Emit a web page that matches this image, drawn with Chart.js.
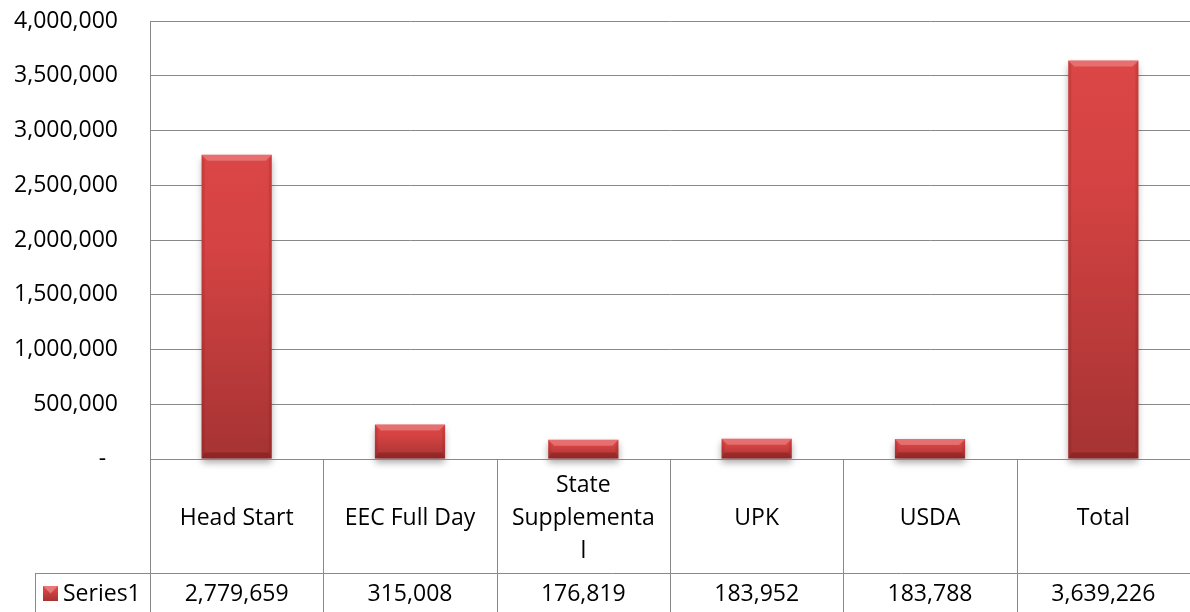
<!DOCTYPE html>
<html>
<head>
<meta charset="utf-8">
<script src="https://cdn.jsdelivr.net/npm/chart.js@4/dist/chart.umd.min.js"></script>
<style>
  body { margin: 0; background: #fff; }
  #wrap { width: 1190px; height: 612px; }
</style>
</head>
<body>
<div id="wrap"><canvas id="chart" width="1190" height="612"></canvas></div>
<script>
// data
const categories = ['Head Start', 'EEC Full Day', ['State', 'Supplementa', 'l'], 'UPK', 'USDA', 'Total'];
const seriesName = 'Series1';
const series1 = [2779659, 315008, 176819, 183952, 183788, 3639226];
const yMax = 4000000;
const yStep = 500000;

const fontFamily = '"Open Sans", sans-serif';
const fontSize = 23;
const lineColor = '#898989';

function fmt(v) {
  return v.toLocaleString('en-US');
}

function barGradient(ctx, top, base) {
  const g = ctx.createLinearGradient(0, top, 0, base);
  g.addColorStop(0, '#db4646');
  g.addColorStop(0.3, '#d54343');
  g.addColorStop(1, '#a63333');
  return g;
}

// bevel + shadow look of the excel bars
const bevel = {
  id: 'bevel',
  beforeDatasetsDraw(chart) {
    const ctx = chart.ctx;
    ctx.save();
    ctx.shadowColor = 'rgba(0,0,0,0.35)';
    ctx.shadowBlur = 7;
    ctx.shadowOffsetX = 0;
    ctx.shadowOffsetY = 4;
  },
  afterDatasetsDraw(chart) {
    const ctx = chart.ctx;
    ctx.restore();
    chart.getDatasetMeta(0).data.forEach(bar => {
      const l = bar.x - bar.width / 2, r = bar.x + bar.width / 2;
      const t = bar.y, b = bar.base;
      const e = Math.min(6, (b - t) / 3);
      ctx.save();
      ctx.fillStyle = 'rgba(255,190,190,0.35)';
      ctx.beginPath();
      ctx.moveTo(l, t); ctx.lineTo(r, t); ctx.lineTo(r - e, t + e); ctx.lineTo(l + e, t + e);
      ctx.closePath(); ctx.fill();
      ctx.fillStyle = 'rgba(90,0,0,0.12)';
      const s = Math.min(3, e);
      ctx.beginPath();
      ctx.moveTo(l, t); ctx.lineTo(l + s, t + e); ctx.lineTo(l + s, b - e); ctx.lineTo(l, b);
      ctx.closePath(); ctx.fill();
      ctx.beginPath();
      ctx.moveTo(r, t); ctx.lineTo(r - s, t + e); ctx.lineTo(r - s, b - e); ctx.lineTo(r, b);
      ctx.closePath(); ctx.fill();
      ctx.fillStyle = 'rgba(70,0,0,0.25)';
      ctx.beginPath();
      ctx.moveTo(l, b); ctx.lineTo(l + s, b - e); ctx.lineTo(r - s, b - e); ctx.lineTo(r, b);
      ctx.closePath(); ctx.fill();
      ctx.restore();
    });
  }
};

// data table under the plot
const dataTable = {
  id: 'dataTable',
  afterDraw(chart) {
    const ctx = chart.ctx;
    const a = chart.chartArea;
    const x = chart.scales.x;
    const n = categories.length;
    const colW = (a.right - a.left) / n;
    const rowSplit = a.bottom + 114;
    const bottom = chart.height;
    const keyLeft = 35;

    ctx.save();
    ctx.strokeStyle = lineColor;
    ctx.lineWidth = 1;
    ctx.beginPath();
    for (let i = 0; i <= n; i++) {
      const xx = Math.round(a.left + i * colW) + 0.5;
      ctx.moveTo(xx, a.bottom);
      ctx.lineTo(xx, bottom);
    }
    ctx.moveTo(keyLeft + 0.5, rowSplit);
    ctx.lineTo(keyLeft + 0.5, bottom);
    ctx.moveTo(keyLeft, rowSplit + 0.5);
    ctx.lineTo(a.right, rowSplit + 0.5);
    // axis line over the bar shadows
    ctx.moveTo(a.left, a.bottom + 0.5);
    ctx.lineTo(a.right, a.bottom + 0.5);
    ctx.stroke();

    ctx.fillStyle = '#000';
    ctx.font = fontSize + 'px ' + fontFamily;
    ctx.textAlign = 'center';
    ctx.textBaseline = 'middle';
    const lh = 33;
    const midCat = (a.bottom + rowSplit) / 2 + 2;
    const midVal = rowSplit + 21;
    categories.forEach((c, i) => {
      const cx = x.getPixelForValue(i);
      const lines = Array.isArray(c) ? c : [c];
      lines.forEach((s, k) => {
        ctx.fillText(s, cx, midCat + (k - (lines.length - 1) / 2) * lh);
      });
      ctx.fillText(fmt(series1[i]), cx, midVal);
    });

    // legend key + series name
    const kx = keyLeft + 8, ky = midVal - 8, ks = 15;
    ctx.fillStyle = barGradient(ctx, ky, ky + ks);
    ctx.fillRect(kx, ky, ks, ks);
    ctx.fillStyle = 'rgba(255,200,200,0.4)';
    ctx.beginPath();
    ctx.moveTo(kx, ky); ctx.lineTo(kx + ks, ky); ctx.lineTo(kx + ks / 2, ky + ks / 2);
    ctx.closePath(); ctx.fill();
    ctx.fillStyle = '#000';
    ctx.textAlign = 'left';
    ctx.fillText(seriesName, kx + ks + 5, midVal);
    ctx.restore();
  }
};

new Chart(document.getElementById('chart'), {
  type: 'bar',
  data: {
    labels: categories,
    datasets: [{
      label: seriesName,
      data: series1,
      clip: false,
      backgroundColor(c) {
        const chart = c.chart;
        if (!chart.chartArea || c.raw === undefined) return '#d04141';
        const y = chart.scales.y;
        return barGradient(chart.ctx, y.getPixelForValue(c.raw), y.getPixelForValue(0));
      },
      borderWidth: 0,
      categoryPercentage: 1,
      barPercentage: 0.405
    }]
  },
  options: {
    responsive: false,
    animation: false,
    layout: { padding: { top: 21, right: 0, bottom: 153, left: 0 } },
    plugins: {
      legend: { display: false },
      tooltip: { enabled: false }
    },
    scales: {
      x: { display: false },
      y: {
        min: 0,
        max: yMax,
        afterFit(scale) {
          scale.width = 150;
          scale.paddingTop = 0;
          scale.paddingBottom = 0;
        },
        border: { color: lineColor, width: 1 },
        grid: { color: lineColor, lineWidth: 1, drawTicks: false },
        ticks: {
          stepSize: yStep,
          padding: 32,
          color: '#000',
          font: { family: fontFamily, size: fontSize },
          callback: v => v === 0 ? '-  ' : fmt(v)
        }
      }
    }
  },
  plugins: [bevel, dataTable]
});
</script>
</body>
</html>
